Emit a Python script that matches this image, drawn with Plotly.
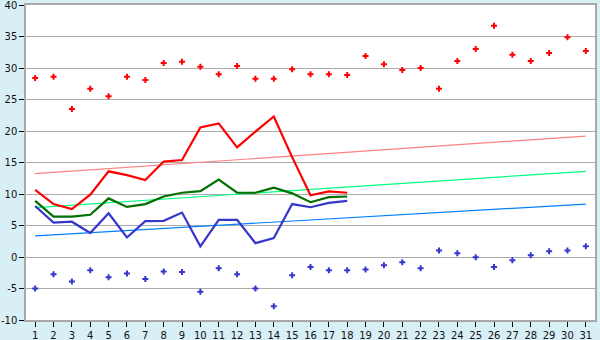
import plotly.graph_objects as go

days = list(range(1, 32))
line_days = list(range(1, 19))
y_ticks = [-10, -5, 0, 5, 10, 15, 20, 25, 30, 35, 40]
y_tick_labels = [str(v) for v in y_ticks]

record_high = [28.4, 28.6, 23.5, 26.7, 25.5, 28.6, 28.1, 30.8, 31.0, 30.2,
               29.0, 30.3, 28.3, 28.3, 29.8, 29.0, 29.0, 28.9, 31.9, 30.6,
               29.7, 30.0, 26.7, 31.1, 33.0, 36.7, 32.1, 31.1, 32.4, 34.9, 32.7]
record_low = [-5.0, -2.75, -3.9, -2.1, -3.2, -2.6, -3.5, -2.3, -2.4, -5.5,
              -1.8, -2.75, -5.0, -7.8, -2.9, -1.6, -2.1, -2.1, -2.0, -1.3,
              -0.85, -1.8, 1.05, 0.6, -0.05, -1.6, -0.5, 0.27, 0.9, 1.05, 1.7]

t_max = [10.65, 8.4, 7.6, 9.9, 13.6, 13.0, 12.2, 15.15, 15.4, 20.55,
         21.2, 17.4, 19.9, 22.3, 15.85, 9.8, 10.4, 10.2]
t_avg = [8.9, 6.4, 6.4, 6.7, 9.3, 7.95, 8.4, 9.6, 10.2, 10.45,
         12.3, 10.2, 10.2, 11.0, 10.1, 8.7, 9.5, 9.6]
t_min = [8.1, 5.45, 5.6, 3.8, 6.95, 3.1, 5.7, 5.75, 7.05, 1.7,
         5.9, 5.9, 2.2, 3.0, 8.4, 7.9, 8.6, 8.9]

trend_days = [1, 31]
trend_max = [13.25, 19.2]
trend_avg = [7.85, 13.6]
trend_min = [3.35, 8.4]

RED = "#ff0000"
GREEN = "#006f00"
BLUE = "#3636cc"

fig = go.Figure()
fig.add_trace(go.Scatter(x=trend_days, y=trend_max, mode="lines",
                         line=dict(color="#ff8080", width=1.2)))
fig.add_trace(go.Scatter(x=trend_days, y=trend_avg, mode="lines",
                         line=dict(color="#00ff80", width=1.2)))
fig.add_trace(go.Scatter(x=trend_days, y=trend_min, mode="lines",
                         line=dict(color="#0080ff", width=1.2)))
fig.add_trace(go.Scatter(x=line_days, y=t_max, mode="lines",
                         line=dict(color=RED, width=2.2)))
fig.add_trace(go.Scatter(x=line_days, y=t_avg, mode="lines",
                         line=dict(color=GREEN, width=2.2)))
fig.add_trace(go.Scatter(x=line_days, y=t_min, mode="lines",
                         line=dict(color=BLUE, width=2.2)))
fig.add_trace(go.Scatter(x=days, y=record_high, mode="markers",
                         marker=dict(color=RED, symbol="cross", size=5)))
fig.add_trace(go.Scatter(x=days, y=record_low, mode="markers",
                         marker=dict(color=BLUE, symbol="cross", size=5)))

axis_font = dict(family="DejaVu Sans, Verdana, sans-serif", size=10, color="#111111")
fig.update_layout(
    width=600, height=340,
    margin=dict(l=26, r=5, t=5, b=20),
    paper_bgcolor="#d9eff6",
    plot_bgcolor="#ffffff",
    showlegend=False,
    xaxis=dict(range=[0.5, 31.5], tickmode="array", tickvals=days,
               ticktext=[str(d) for d in days], showgrid=False, zeroline=False,
               ticks="outside", ticklen=5, tickcolor="#000000",
               showline=True, linecolor="#a8a8a8", linewidth=1.5, mirror=True,
               tickfont=axis_font, fixedrange=True, automargin=False,
               ticklabeloverflow="allow"),
    yaxis=dict(range=[-10, 40], tickmode="array", tickvals=y_ticks,
               ticktext=y_tick_labels, showgrid=True, gridcolor="#aaaaaa",
               gridwidth=1, zeroline=False, ticks="outside", ticklen=5,
               tickcolor="#000000", showline=True, linecolor="#a8a8a8",
               linewidth=1.5, mirror=True, tickfont=axis_font, fixedrange=True,
               automargin=False, ticklabeloverflow="allow"),
)
fig.write_html("out.html")
